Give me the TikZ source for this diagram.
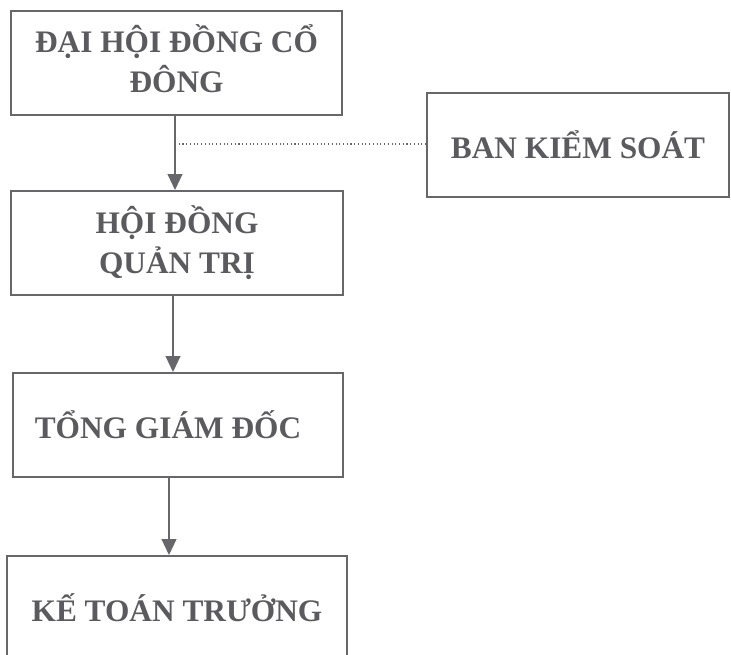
\documentclass[tikz,border=0pt]{standalone}
\usepackage{fontspec}
\setmainfont{Liberation Serif}
\usetikzlibrary{arrows.meta}
\definecolor{inkgray}{HTML}{5A5A5F}
\definecolor{linegray}{HTML}{66666B}
\tikzset{
  box/.style={draw=linegray, line width=1.4pt, rectangle, minimum height=78pt,
    inner sep=2pt, align=center, text=inkgray,
    font=\fontsize{23.5pt}{30pt}\selectfont\bfseries},
  arr/.style={draw=linegray, line width=1.5pt, -{Triangle[length=12pt,width=11pt]}},
  dotline/.style={draw=linegray, line width=0.8pt, dotted}
}
\begin{document}
\begin{tikzpicture}[x=0.75pt,y=-0.75pt]
\useasboundingbox (0,0) rectangle (731,655);
\node[box, minimum width=248.25pt] (dh) at (176.5,63) {ĐẠI HỘI ĐỒNG CỔ\\ĐÔNG\\[-24pt]\mbox{}};
\node[box, minimum width=226.5pt] (bks) at (578,145) {BAN KIỂM SOÁT};
\node[box, minimum width=249pt] (hd) at (177,243) {HỘI ĐỒNG\\QUẢN TRỊ};
\node[box, minimum width=247.5pt] (tgd) at (178,425) {TỔNG GIÁM ĐỐC\hspace*{15pt}};
\node[box, minimum width=255pt] (ktt) at (177,608) {KẾ TOÁN TRƯỞNG};
\coordinate (a1) at (175,0);
\coordinate (a2) at (173,0);
\coordinate (a3) at (169,0);
\coordinate (j) at (175,144);
\draw[arr] (dh.south -| a1) -- (hd.north -| a1);
\draw[arr] (hd.south -| a2) -- (tgd.north -| a2);
\draw[arr] (tgd.south -| a3) -- (ktt.north -| a3);
\draw[dotline] (j) -- (bks.west |- j);
\end{tikzpicture}
\end{document}
